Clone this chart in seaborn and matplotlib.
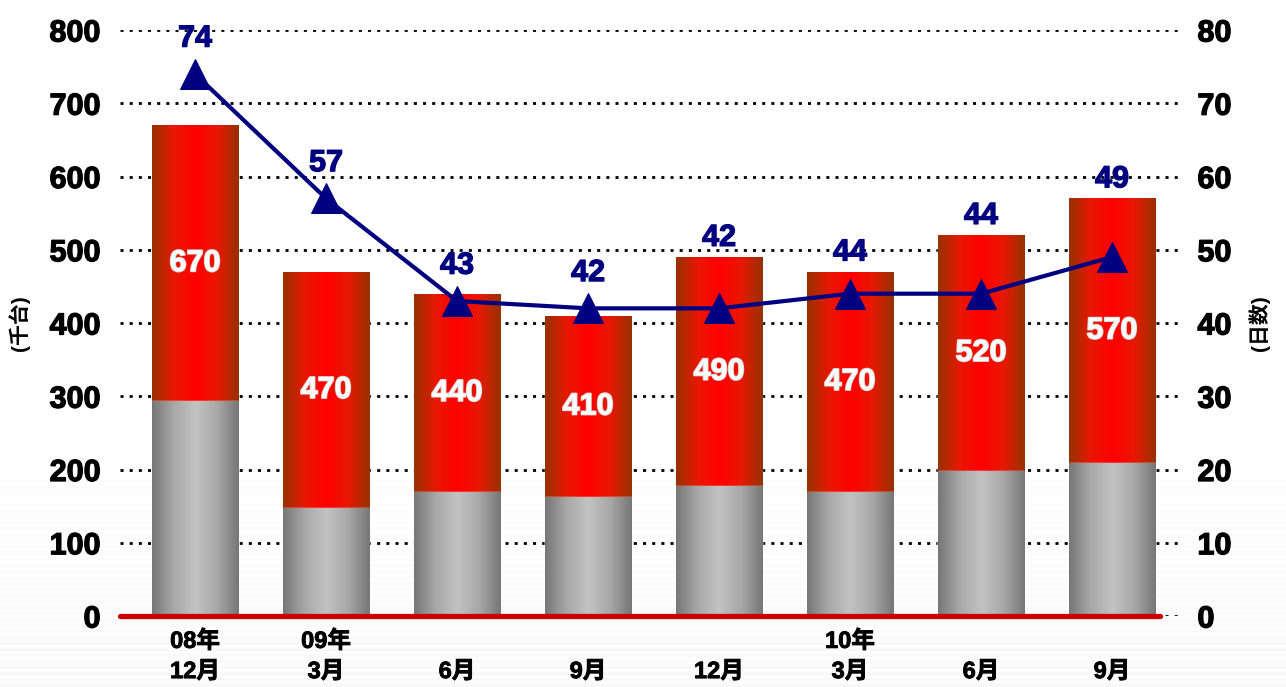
import numpy as np
import pandas as pd
import seaborn as sns
import matplotlib.pyplot as plt
import matplotlib.patheffects as pe
from matplotlib.colors import LinearSegmentedColormap

# data
periods = ["08/12", "09/03", "09/06", "09/09", "09/12", "10/03", "10/06", "10/09"]
tick_labels = ["08年\n12月", "09年\n3月", "\n6月", "\n9月", "\n12月", "10年\n3月", "\n6月", "\n9月"]
gray_part = [293, 147, 169, 162, 177, 169, 198, 209]   # 千台, lower gray segment
totals = [670, 470, 440, 410, 490, 470, 520, 570]      # 千台, bar total
days = [74, 57, 43, 42, 42, 44, 44, 49]                # 日数, right axis

df = pd.DataFrame({"period": periods, "gray": gray_part, "total": totals, "days": days})

sns.set_theme(style="white")
plt.rcParams["font.family"] = ["Liberation Sans", "Noto Sans CJK JP"]
plt.rcParams["font.weight"] = "bold"
plt.rcParams["text.color"] = "black"
plt.rcParams["xtick.color"] = "black"
plt.rcParams["ytick.color"] = "black"
plt.rcParams["axes.labelcolor"] = "black"

W, H = 1286, 687
fig = plt.figure(figsize=(W / 100, H / 100), dpi=100)

# faint horizontal stripes in the lower part of the slide background
# (figimage origin="lower": row 0 is the bottom pixel row)
rows_from_top = H - 1 - np.arange(H)
fade = np.clip((rows_from_top - 440) / (H - 440), 0, 1)
stripes = np.where((np.arange(H) // 3) % 2 == 0, 0.025, 0.008) * fade
bg = np.repeat((1 - stripes)[:, None], W, axis=1)
fig.figimage(np.dstack([bg, bg, bg]), xo=0, yo=0, origin="lower", zorder=-10)

ax = fig.add_axes([120 / W, 1 - 616 / H, (1178 - 120) / W, (616 - 30) / H])
ax.patch.set_alpha(0)

heavy = [pe.withStroke(linewidth=0.9, foreground="black")]

# stacked bars: total (red) drawn first, gray part on top of it from zero
sns.barplot(data=df, x="period", y="total", order=periods, color="red", width=0.66,
            saturation=1, ax=ax, zorder=2)
sns.barplot(data=df, x="period", y="gray", order=periods, color="gray", width=0.66,
            saturation=1, ax=ax, zorder=3)

# gradient fill for each bar patch
red_cmap = LinearSegmentedColormap.from_list("redbar", ["#963200", "#e81800", "#ff0000", "#e81800", "#963200"])
gray_cmap = LinearSegmentedColormap.from_list("graybar", ["#767676", "#a8a8a8", "#c2c2c2", "#a8a8a8", "#767676"])
grad = np.linspace(0, 1, 256).reshape(1, -1)
n = len(periods)
for i, patch in enumerate(ax.patches):
    cmap = red_cmap if i < n else gray_cmap
    x0, y0 = patch.get_x(), patch.get_y()
    w, h = patch.get_width(), patch.get_height()
    im = ax.imshow(grad, cmap=cmap, aspect="auto", extent=(x0, x0 + w, y0, y0 + h),
                   zorder=patch.get_zorder() + 0.5, interpolation="bicubic")
    im.set_clip_path(patch)
ax.set_ylim(0, 800)
ax.set_xlim(-0.573, 7.504)

# total labels inside red segment
for i, (g, t) in enumerate(zip(gray_part, totals)):
    ax.text(i, (g + t) / 2, str(t), ha="center", va="center", color="white",
            fontsize=22, fontweight="bold", zorder=6,
            path_effects=[pe.withStroke(linewidth=1.3, foreground="#d8d8d8")])

ax.set_yticks(range(0, 801, 100))
ax.yaxis.grid(True, color="black", linestyle=(0, (1.1, 2.2)), linewidth=2.0, zorder=0)
ax.xaxis.grid(False)
ax.set_axisbelow(True)
for s in ax.spines.values():
    s.set_visible(False)
ax.axhline(0, xmax=(1160 - 120) / (1178 - 120), color="#cc0000", linewidth=3.8, zorder=4,
           clip_on=False)

ax.set_xticks(range(n))
ax.set_xticklabels(tick_labels, fontsize=17, fontweight="bold", linespacing=1.4)
for lbl in ax.get_xticklabels():
    lbl.set_path_effects([pe.withStroke(linewidth=0.6, foreground="black")])
ax.tick_params(axis="x", length=0, pad=10)
ax.tick_params(axis="y", length=0, pad=14, labelsize=22)
for lbl in ax.get_yticklabels():
    lbl.set_fontweight("bold")
    lbl.set_path_effects(heavy)
ax.set_xlabel("")
ax.set_ylabel("(千台)", fontsize=15, fontweight="bold", labelpad=14)

# right axis: days line
ax2 = ax.twinx()
sns.lineplot(x=np.arange(n), y=days, ax=ax2, color="#000080", linewidth=3,
             marker="^", markersize=21, markeredgecolor="#000080", zorder=7)
ax2.set_ylim(0, 80)
ax2.set_yticks(range(0, 81, 10))
ax2.tick_params(axis="y", length=0, pad=14, labelsize=22)
for lbl in ax2.get_yticklabels():
    lbl.set_fontweight("bold")
    lbl.set_path_effects(heavy)
for s in ax2.spines.values():
    s.set_visible(False)
ax2.set_ylabel("(日数)", fontsize=15, fontweight="bold", labelpad=12)
ax2.grid(False)

for i, (d, t) in enumerate(zip(days, totals)):
    anchor = max(t / 10, d + 2.2)
    ax2.annotate(str(d), (i, anchor), xytext=(0, 3), textcoords="offset points",
                 ha="center", va="bottom", color="#000080", fontsize=22, fontweight="bold",
                 path_effects=[pe.withStroke(linewidth=0.9, foreground="#000080")])

fig.savefig("out.png", dpi=100)
